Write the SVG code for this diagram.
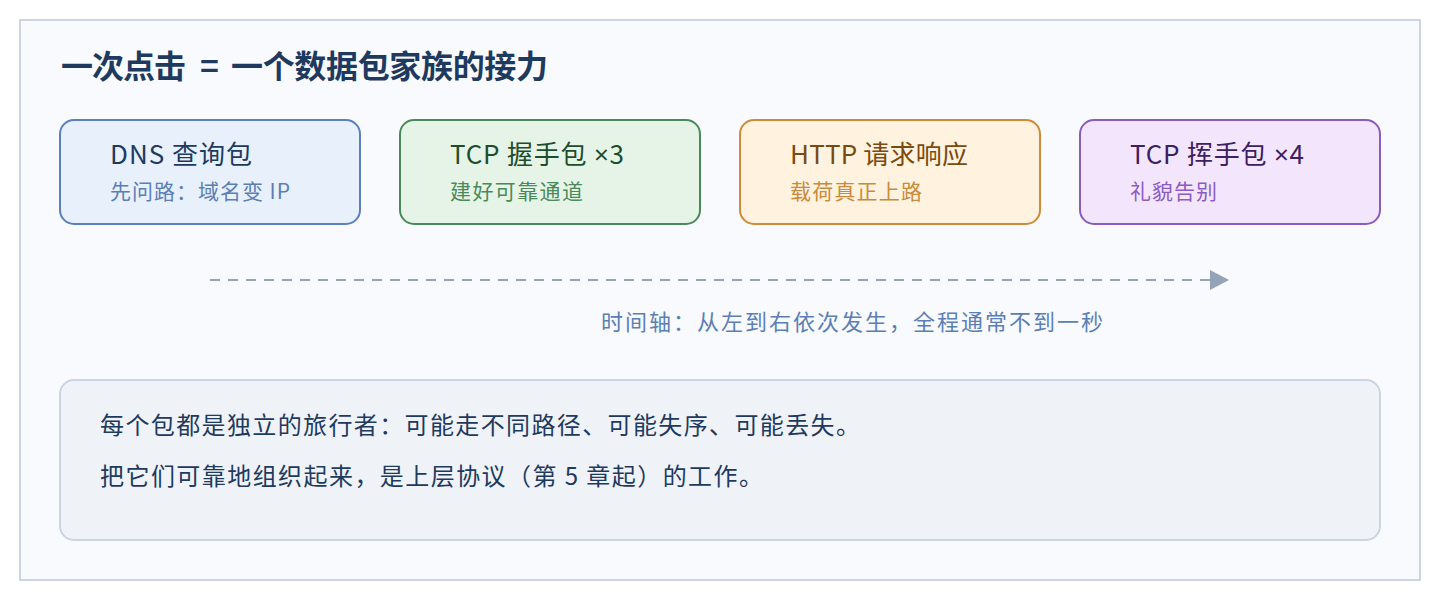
<svg xmlns="http://www.w3.org/2000/svg" width="1440" height="600" viewBox="0 0 1440 600">
<style>
text{font-family:"Noto Sans CJK SC","Noto Sans",sans-serif}
.t{font-size:26px}
.s{font-size:21px}
.b{font-size:24px;fill:#1e3a5f}
.box{stroke-width:2}
.lat{font-family:"Noto Sans",sans-serif}
</style>
<defs>
<marker id="arr" viewBox="0 0 20 20" markerWidth="20" markerHeight="20" refX="2" refY="10" orient="auto" markerUnits="userSpaceOnUse"><path d="M0,0 L19,10 L0,20 Z" fill="#94a3b8"/></marker>
</defs>
<rect x="20" y="20" width="1400" height="560" fill="#f8fafe" stroke="#cbd5e1" stroke-width="2"/>
<text y="78" font-size="32" font-weight="bold" fill="#1e3a5f"><tspan x="61" textLength="125">一次点击</tspan> <tspan x="200">=</tspan> <tspan x="231" textLength="317">一个数据包家族的接力</tspan></text>
<g id="dns">
<rect class="box" x="60" y="120" width="300" height="104" rx="14" fill="#e8f0fc" stroke="#5b7fbf"/>
<text class="t" x="110" y="164" fill="#1e3a5f" textLength="142">DNS 查询包</text>
<text class="s" x="110" y="199" fill="#5b7fb5" textLength="180">先问路：域名变 IP</text>
</g>
<g id="tcp3">
<rect class="box" x="400" y="120" width="300" height="104" rx="14" fill="#e6f4e8" stroke="#4a8a5a"/>
<text class="t" x="450" y="164" fill="#1f4d2b" textLength="174">TCP 握手包 <tspan class="lat">×</tspan>3</text>
<text class="s" x="450" y="199" fill="#4a8a5a" textLength="133">建好可靠通道</text>
</g>
<g id="http">
<rect class="box" x="740" y="120" width="300" height="104" rx="14" fill="#fff2df" stroke="#d08a3a"/>
<text class="t" x="790" y="164" fill="#7a4a10" textLength="178">HTTP 请求响应</text>
<text class="s" x="790" y="199" fill="#c98a3a" textLength="132">载荷真正上路</text>
</g>
<g id="tcp4">
<rect class="box" x="1080" y="120" width="300" height="104" rx="14" fill="#f3e6fc" stroke="#8a5cc0"/>
<text class="t" x="1130" y="164" fill="#3d2060" textLength="174">TCP 挥手包 <tspan class="lat">×</tspan>4</text>
<text class="s" x="1130" y="199" fill="#8a5cc0" textLength="87">礼貌告别</text>
</g>
<g id="connectors">
<line x1="210" y1="280" x2="1212" y2="280" stroke="#94a3b8" stroke-width="2" stroke-dasharray="10 8" marker-end="url(#arr)"/>
</g>
<text x="601" y="330" font-size="22" fill="#5b7fb5" textLength="502">时间轴：从左到右依次发生，全程通常不到一秒</text>
<g id="note">
<rect x="60" y="380" width="1320" height="160" rx="14" fill="#eff3f8" stroke="#cbd5e1" stroke-width="2"/>
<text class="b" x="100" y="434" textLength="760">每个包都是独立的旅行者：可能走不同路径、可能失序、可能丢失。</text>
<text class="b" x="100" y="485" textLength="663">把它们可靠地组织起来，是上层协议（第 5 章起）的工作。</text>
</g>
</svg>
